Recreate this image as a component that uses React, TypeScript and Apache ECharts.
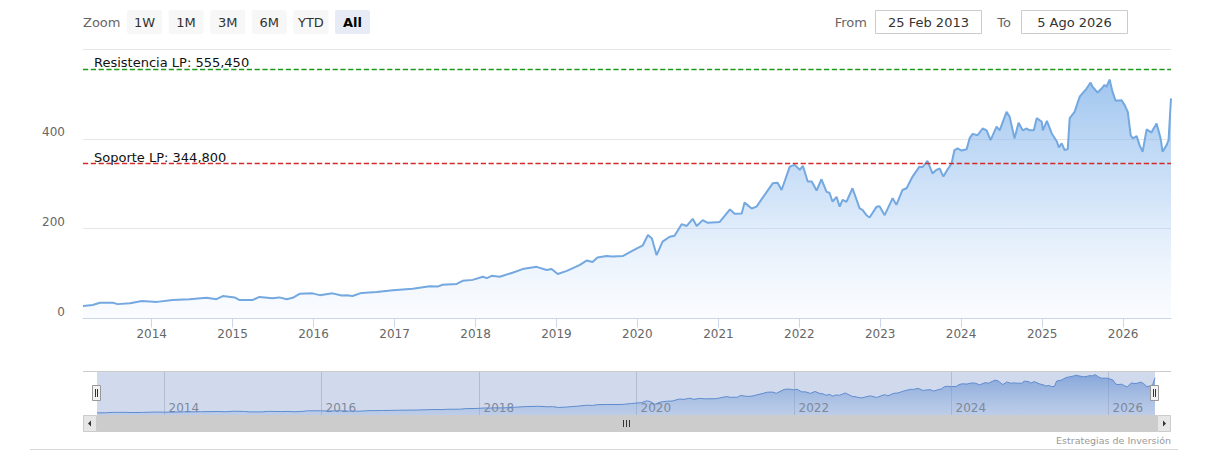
import React, { useEffect, useRef } from 'react';
import * as echarts from 'echarts';

const dates = [
  '2013-02-25','2013-04-10','2013-05-12','2013-07-10','2013-08-01','2013-09-25','2013-11-18',
  '2014-01-25','2014-04-05','2014-06-20','2014-09-05','2014-10-20','2014-11-18',
  '2015-01-10','2015-02-02','2015-03-31','2015-05-02','2015-06-30','2015-07-31','2015-09-02','2015-09-29','2015-10-30','2015-12-28',
  '2016-01-29','2016-03-27','2016-05-07','2016-05-29','2016-06-25','2016-08-05','2016-10-12','2016-12-24',
  '2017-03-24','2017-06-08','2017-07-14','2017-08-05','2017-10-08','2017-11-04','2017-12-19',
  '2018-02-03','2018-02-21','2018-03-15','2018-04-20','2018-06-17','2018-08-01','2018-10-04','2018-11-18','2018-12-10',
  '2019-01-07','2019-02-17','2019-04-15','2019-05-17','2019-06-13','2019-07-05','2019-08-15','2019-09-11','2019-10-27','2019-12-11',
  '2020-01-26','2020-02-18','2020-03-07','2020-03-28','2020-04-24','2020-05-26','2020-06-17','2020-07-19','2020-08-11','2020-09-07','2020-09-25','2020-10-22','2020-11-14',
  '2021-01-07','2021-02-22','2021-03-15','2021-04-16','2021-04-29','2021-05-31','2021-06-22','2021-08-07','2021-09-03','2021-09-25','2021-10-13','2021-11-19','2021-12-11',
  '2022-01-03','2022-01-17','2022-02-08','2022-02-26','2022-03-20','2022-04-11','2022-05-04','2022-05-17','2022-05-31','2022-06-18','2022-07-02','2022-07-15','2022-08-02','2022-08-29','2022-09-30','2022-10-13','2022-10-31','2022-11-14','2022-12-16','2022-12-29',
  '2023-01-21','2023-02-26','2023-03-15','2023-04-11','2023-04-30','2023-05-27','2023-06-27','2023-07-11','2023-08-02','2023-08-25','2023-09-12','2023-09-26','2023-10-13','2023-11-01','2023-11-19','2023-12-02','2023-12-16',
  '2024-01-03','2024-01-26','2024-02-08','2024-02-22','2024-03-15','2024-04-07','2024-04-25','2024-05-13','2024-06-09','2024-06-23','2024-07-24','2024-08-07','2024-08-29','2024-09-16','2024-10-05','2024-10-23','2024-11-05','2024-11-24','2024-12-07','2024-12-30',
  '2025-01-04','2025-01-22','2025-02-13','2025-03-08','2025-03-17','2025-03-30','2025-04-12','2025-04-26','2025-05-05','2025-05-27','2025-06-19','2025-07-20','2025-08-07','2025-08-16','2025-09-08','2025-09-26','2025-10-09','2025-10-18','2025-11-01','2025-11-14','2025-11-28','2025-12-25',
  '2026-01-08','2026-01-22','2026-02-04','2026-02-14','2026-03-03','2026-03-16','2026-03-30','2026-04-17','2026-05-09','2026-05-14','2026-06-01','2026-06-19','2026-06-28','2026-07-16','2026-07-25','2026-08-05',
];

const values = [
  28,30,35,35,32,34,39,
  37,41,43,46,43,50,
  47,41,41,48,45,47,43,46,55,56,
  52,56,51,52,50,57,59,63,
  66,72,71,75,77,84,86,
  93,90,95,93,102,110,115,108,110,
  99,106,119,129,126,136,139,138,139,151,
  163,186,178,141,171,182,184,210,206,222,206,219,213,
  215,243,233,234,258,245,249,282,301,302,286,338,342,
  331,340,305,305,285,310,282,280,260,271,249,264,260,290,245,242,230,225,249,250,
  230,268,253,286,290,316,338,337,351,323,331,334,316,332,345,375,379,
  374,377,401,411,408,423,419,397,427,419,460,449,401,436,419,423,419,419,446,438,
  419,440,412,394,381,390,375,377,446,460,494,512,525,516,503,512,520,516,532,505,485,486,
  475,460,408,401,406,386,371,421,414,419,434,401,371,386,397,490,
];

const rangeStart = '2013-02-25';
const rangeEnd = '2026-08-05';
const resistance = 555.45;
const support = 344.8;
const resistanceLabel = 'Resistencia LP: 555,450';
const supportLabel = 'Soporte LP: 344,800';
const yMin = 0;
const yMax = 600;
const yInterval = 200;
const navYears = [2014, 2016, 2018, 2020, 2022, 2024, 2026];
const zoomButtons = ['1W', '1M', '3M', '6M', 'YTD', 'All'];
const selectedButton = 'All';
const fromText = '25 Feb 2013';
const toText = '5 Ago 2026';
const creditsText = 'Estrategias de Inversión';

const FONT = "'DejaVu Sans', Verdana, sans-serif";

function levelSeries(name: string, value: number, label: string, color: string) {
  return {
    type: 'line',
    name,
    xAxisIndex: 0,
    yAxisIndex: 0,
    data: [],
    silent: true,
    color,
    itemStyle: { color },
    lineStyle: { color },
    markLine: {
      silent: true,
      symbol: 'none',
      animation: false,
      lineStyle: { color, type: 'dashed', dashOffset: 0, width: 1.3, opacity: 1 },
      emphasis: { disabled: true },
      label: {
        show: true,
        position: 'insideStartTop',
        formatter: label,
        color: '#111111',
        fontSize: 13,
        fontFamily: FONT,
        padding: [0, 0, 0, 11],
        distance: 0,
      },
      data: [{ yAxis: value, lineStyle: { color, type: 'dashed', width: 1.3 } }],
    },
  };
}

export default function App() {
  const ref = useRef<HTMLDivElement>(null);

  useEffect(() => {
    const chart = echarts.init(ref.current as HTMLDivElement, null, { renderer: 'svg' });
    const seriesData = dates.map((d, i) => [d, values[i]]);

    const MAIN = { left: 83, right: 34, top: 49, height: 269.5 };
    const NAV = { left: 97, right: 50, top: 371, height: 44 };

    chart.setOption({
      animation: false,
      backgroundColor: '#ffffff',
      textStyle: { fontFamily: FONT },
      grid: [
        { left: MAIN.left, right: MAIN.right, top: MAIN.top, height: MAIN.height },
        { left: NAV.left, right: NAV.right, top: NAV.top, height: NAV.height },
      ],
      xAxis: [
        {
          type: 'time',
          gridIndex: 0,
          min: rangeStart,
          max: rangeEnd,
          minInterval: 365 * 24 * 3600 * 1000,
          maxInterval: 366 * 24 * 3600 * 1000,
          axisLine: { show: true, lineStyle: { color: '#ccd6eb', width: 1 } },
          axisTick: { show: true, length: 9, lineStyle: { color: '#ccd6eb' } },
          splitLine: { show: false },
          axisLabel: {
            color: '#666666',
            fontSize: 12,
            fontFamily: FONT,
            margin: 9,
            hideOverlap: false,
            formatter: (val: number) => {
              const d = new Date(val);
              return d.getMonth() === 0 && d.getDate() === 1 ? String(d.getFullYear()) : '';
            },
          },
        },
        {
          type: 'time',
          gridIndex: 1,
          min: rangeStart,
          max: rangeEnd,
          show: false,
          splitLine: { show: false },
        },
      ],
      yAxis: [
        {
          type: 'value',
          gridIndex: 0,
          min: yMin,
          max: yMax,
          interval: yInterval,
          axisLine: { show: false },
          axisTick: { show: false },
          splitLine: { show: true, lineStyle: { color: '#e6e6e6', width: 1 } },
          axisLabel: {
            color: '#666666',
            fontSize: 12,
            fontFamily: FONT,
            margin: 18,
            verticalAlign: 'bottom',
            padding: [0, 0, 1, 0],
            formatter: (v: number) => (v === yMax ? '' : String(v)),
          },
        },
        {
          type: 'value',
          gridIndex: 1,
          min: 0,
          max: 580,
          show: false,
          splitLine: { show: false },
        },
      ],
      series: [
        {
          type: 'line',
          xAxisIndex: 0,
          yAxisIndex: 0,
          data: seriesData,
          showSymbol: false,
          symbol: 'none',
          silent: true,
          lineStyle: { color: '#74a8e0', width: 2 },
          areaStyle: {
            color: new echarts.graphic.LinearGradient(0, 0, 0, 1, [
              { offset: 0, color: 'rgba(118,172,232,0.98)' },
              { offset: 0.5, color: 'rgba(150,192,240,0.6)' },
              { offset: 1, color: 'rgba(200,222,248,0.12)' },
            ]),
          },
        },
        levelSeries('Resistencia', resistance, resistanceLabel, '#1c9a1c'),
        levelSeries('Soporte', support, supportLabel, '#d42a2a'),
        {
          type: 'line',
          xAxisIndex: 1,
          yAxisIndex: 1,
          data: seriesData,
          showSymbol: false,
          symbol: 'none',
          silent: true,
          lineStyle: { color: '#5b8fd4', width: 1 },
          areaStyle: {
            color: new echarts.graphic.LinearGradient(0, 0, 0, 1, [
              { offset: 0, color: 'rgba(95,145,215,0.95)' },
              { offset: 1, color: 'rgba(140,180,230,0.35)' },
            ]),
          },
        },
      ],
    });

    const navL = chart.convertToPixel({ xAxisIndex: 1 }, +new Date(rangeStart + 'T00:00:00')) as number;
    const navR = chart.convertToPixel({ xAxisIndex: 1 }, +new Date(rangeEnd + 'T00:00:00')) as number;
    const navTop = NAV.top;
    const navBot = NAV.top + NAV.height;
    const plotL = MAIN.left;
    const plotR = 1205 - MAIN.right;

    const g: any[] = [];
    // range selector
    g.push({ type: 'text', x: plotL, y: 22, z: 10, style: { text: 'Zoom', fill: '#666666', fontSize: 13, fontFamily: FONT, align: 'left', verticalAlign: 'middle' } });
    zoomButtons.forEach((b, i) => {
      const bx = 127 + i * 41.6;
      const sel = b === selectedButton;
      g.push({ type: 'rect', z: 10, shape: { x: bx, y: 10, width: 35, height: 24, r: 2 }, style: { fill: sel ? '#e6ebf5' : '#f7f7f7' } });
      g.push({ type: 'text', z: 11, x: bx + 17.5, y: 22, style: { text: b, fill: sel ? '#000000' : '#333333', fontWeight: sel ? 'bold' : 'normal', fontSize: 13, fontFamily: FONT, align: 'center', verticalAlign: 'middle' } });
    });
    // from / to
    g.push({ type: 'text', z: 10, x: 867, y: 22, style: { text: 'From', fill: '#666666', fontSize: 13, fontFamily: FONT, align: 'right', verticalAlign: 'middle' } });
    g.push({ type: 'rect', z: 10, shape: { x: 875.5, y: 10.5, width: 106, height: 23 }, style: { fill: '#ffffff', stroke: '#cccccc', lineWidth: 1 } });
    g.push({ type: 'text', z: 11, x: 928.5, y: 22, style: { text: fromText, fill: '#333333', fontSize: 13, fontFamily: FONT, align: 'center', verticalAlign: 'middle' } });
    g.push({ type: 'text', z: 10, x: 1011, y: 22, style: { text: 'To', fill: '#666666', fontSize: 13, fontFamily: FONT, align: 'right', verticalAlign: 'middle' } });
    g.push({ type: 'rect', z: 10, shape: { x: 1021.5, y: 10.5, width: 106, height: 23 }, style: { fill: '#ffffff', stroke: '#cccccc', lineWidth: 1 } });
    g.push({ type: 'text', z: 11, x: 1074.5, y: 22, style: { text: toText, fill: '#333333', fontSize: 13, fontFamily: FONT, align: 'center', verticalAlign: 'middle' } });

    // navigator year lines & labels
    navYears.forEach((yr) => {
      const px = Math.round(chart.convertToPixel({ xAxisIndex: 1 }, +new Date(yr, 0, 1)) as number) + 0.5;
      g.push({ type: 'line', z: 1, shape: { x1: px, y1: navTop, x2: px, y2: navBot }, style: { stroke: '#d6d6d6', lineWidth: 1 } });
      g.push({ type: 'text', z: 3, x: px + 4, y: navBot - 1, style: { text: String(yr), fill: '#8a8a8a', fontSize: 12, fontFamily: FONT, align: 'left', verticalAlign: 'bottom' } });
    });
    // mask
    g.push({ type: 'rect', z: 4, shape: { x: navL, y: navTop, width: navR - navL, height: navBot - navTop }, style: { fill: 'rgba(102,133,194,0.3)' } });
    // outline
    g.push({ type: 'line', z: 5, shape: { x1: plotL, y1: navTop + 0.5, x2: plotR, y2: navTop + 0.5 }, style: { stroke: '#cccccc', lineWidth: 1 } });
    // handles
    [navL, navR].forEach((hx) => {
      const x0 = Math.round(hx) - 4.5;
      g.push({ type: 'rect', z: 6, shape: { x: x0, y: 385.5, width: 8, height: 15 }, style: { fill: '#f2f2f2', stroke: '#999999', lineWidth: 1 } });
      g.push({ type: 'line', z: 7, shape: { x1: x0 + 3, y1: 389, x2: x0 + 3, y2: 397 }, style: { stroke: '#333333', lineWidth: 1 } });
      g.push({ type: 'line', z: 7, shape: { x1: x0 + 5, y1: 389, x2: x0 + 5, y2: 397 }, style: { stroke: '#333333', lineWidth: 1 } });
    });
    // scrollbar
    const sbTop = navBot;
    const sbH = 17;
    g.push({ type: 'rect', z: 5, shape: { x: plotL, y: sbTop, width: plotR - plotL, height: sbH }, style: { fill: '#f2f2f2' } });
    g.push({ type: 'rect', z: 6, shape: { x: plotL + 14, y: sbTop, width: plotR - plotL - 28, height: sbH }, style: { fill: '#cccccc' } });
    g.push({ type: 'rect', z: 6, shape: { x: plotL + 0.5, y: sbTop + 0.5, width: 13, height: sbH - 1 }, style: { fill: '#e6e6e6', stroke: '#cccccc', lineWidth: 1 } });
    g.push({ type: 'rect', z: 6, shape: { x: plotR - 13.5, y: sbTop + 0.5, width: 13, height: sbH - 1 }, style: { fill: '#e6e6e6', stroke: '#cccccc', lineWidth: 1 } });
    const sbMid = sbTop + sbH / 2;
    g.push({ type: 'polygon', z: 7, shape: { points: [[plotL + 5, sbMid], [plotL + 8, sbMid - 3], [plotL + 8, sbMid + 3]] }, style: { fill: '#333333' } });
    g.push({ type: 'polygon', z: 7, shape: { points: [[plotR - 5, sbMid], [plotR - 8, sbMid - 3], [plotR - 8, sbMid + 3]] }, style: { fill: '#333333' } });
    const cx = Math.round((plotL + plotR) / 2) - 0.5;
    [-3, 0, 3].forEach((dx) => {
      g.push({ type: 'line', z: 7, shape: { x1: cx + dx, y1: sbMid - 3.5, x2: cx + dx, y2: sbMid + 3.5 }, style: { stroke: '#333333', lineWidth: 1 } });
    });
    // credits
    g.push({ type: 'text', z: 10, x: plotR, y: 440, style: { text: creditsText, fill: '#999999', fontSize: 9.5, fontFamily: FONT, align: 'right', verticalAlign: 'middle' } });
    // bottom separator
    g.push({ type: 'line', z: 10, shape: { x1: 30, y1: 449.5, x2: 1178, y2: 449.5 }, style: { stroke: '#d8d8d8', lineWidth: 1 } });

    chart.setOption({ graphic: g });

    return () => {
      chart.dispose();
    };
  }, []);

  return (
    <div
      ref={ref}
      style={{ position: 'fixed', left: 0, top: 0, width: 1205, height: 467, background: '#ffffff' }}
    />
  );
}
